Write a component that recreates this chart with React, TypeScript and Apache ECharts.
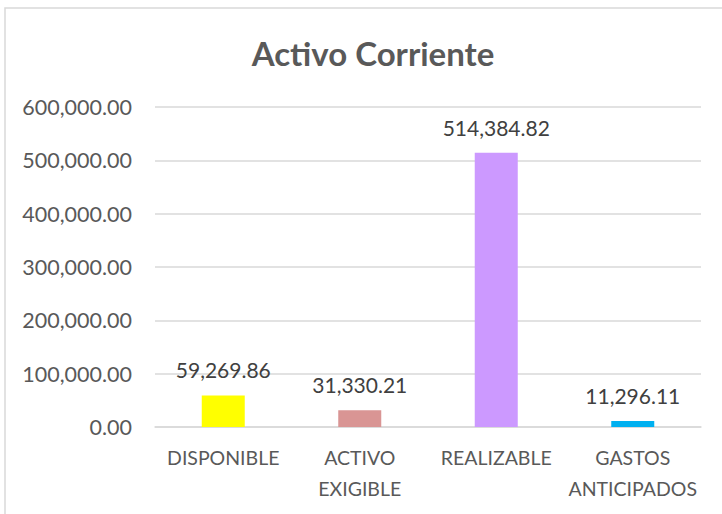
import React, { useEffect, useRef } from "react";
import * as echarts from "echarts";

const categories = ["DISPONIBLE", "ACTIVO\nEXIGIBLE", "REALIZABLE", "GASTOS\nANTICIPADOS"];
const values = [59269.86, 31330.21, 514384.82, 11296.11];
const barColors = ["#FFFF00", "#D99594", "#CC99FF", "#00B0F0"];
const titleText = "Activo Corriente";

const FONT = "Lato";

const fmt = (v: number) =>
  v.toLocaleString("en-US", { minimumFractionDigits: 2, maximumFractionDigits: 2 });

export default function App() {
  const ref = useRef<HTMLDivElement>(null);
  useEffect(() => {
    if (!ref.current) return;
    const chart = echarts.init(ref.current, null, { renderer: "svg" });
    chart.setOption({
      animation: false,
      backgroundColor: "#ffffff",
      textStyle: { fontFamily: FONT },
      title: {
        text: titleText,
        left: 368,
        top: 31,
        textAlign: "center",
        textStyle: { fontFamily: FONT, fontSize: 33, fontWeight: "bold", color: "#595959" },
      },
      graphic: [
        {
          type: "rect",
          shape: { x: 5, y: 8, width: 740, height: 540 },
          style: { fill: "none", stroke: "#D9D9D9", lineWidth: 1.5 },
          silent: true,
        },
      ],
      grid: {
        left: 155,
        right: 21,
        top: 107,
        bottom: 87,
        containLabel: false,
        outerBoundsMode: "none",
      },
      xAxis: {
        type: "category",
        data: categories,
        axisLine: { show: true, lineStyle: { color: "#D9D9D9", width: 1.5 } },
        axisTick: { show: false },
        axisLabel: {
          interval: 0,
          margin: 15,
          color: "#595959",
          fontFamily: FONT,
          fontSize: 19.5,
          lineHeight: 31,
        },
      },
      yAxis: {
        type: "value",
        min: 0,
        max: 600000,
        interval: 100000,
        axisLine: { show: false },
        axisTick: { show: false },
        splitLine: { lineStyle: { color: "#D9D9D9", width: 1.5 } },
        axisLabel: {
          margin: 23,
          color: "#595959",
          fontFamily: FONT,
          fontSize: 21.5,
          formatter: (v: number) => fmt(v),
        },
      },
      series: [
        {
          type: "bar",
          barWidth: 43,
          data: values.map((v, i) => ({ value: v, itemStyle: { color: barColors[i] } })),
          label: {
            show: true,
            position: "top",
            distance: 15,
            color: "#404040",
            fontFamily: FONT,
            fontSize: 21,
            formatter: (p: any) => fmt(p.value),
          },
        },
      ],
    });
    return () => chart.dispose();
  }, []);
  return (
    <div
      ref={ref}
      style={{ position: "absolute", left: 0, top: 0, width: 722, height: 514 }}
    />
  );
}
